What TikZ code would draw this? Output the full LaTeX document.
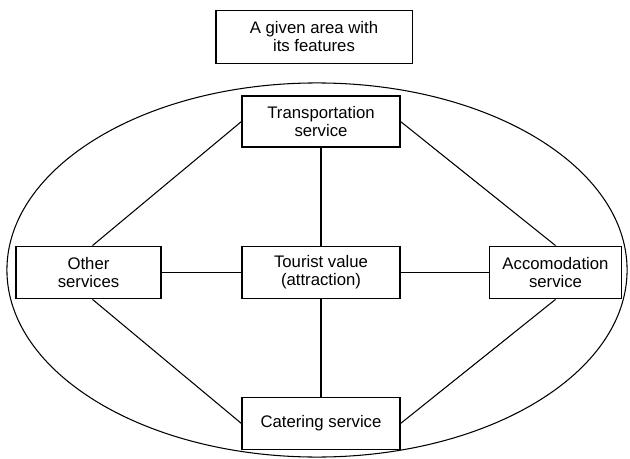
\documentclass[tikz,border=0pt]{standalone}
\usepackage{fontspec}
\setmainfont{Liberation Sans}
\usetikzlibrary{shapes.geometric}

\begin{document}
\begin{tikzpicture}[
    x=0.025cm, y=-0.025cm,
    box/.style={draw, line width=0.75pt, align=center, inner sep=1pt, minimum height=1.32cm, font=\fontsize{11.9}{12.8}\selectfont},
    link/.style={line width=0.75pt}
]
\useasboundingbox (0,0) rectangle (630,459);
\node[draw, ellipse, line width=0.75pt, inner sep=0pt, minimum width=15.5cm, minimum height=9.35cm] (region) at (317,270) {};
\node[box, minimum width=4.9cm] (area) at (314,37) {A given area with\\its features};
\node[box, minimum width=3.95cm, minimum height=1.275cm] (transport) at (321,121.5) {Transportation\\service};
\node[box, minimum width=3.625cm] (other) at (88.5,272.5) {Other\\services};
\node[box, minimum width=3.95cm] (tourist) at (321,272.5) {Tourist value\\(attraction)};
\node[box, minimum width=3.3cm] (accom) at (555.5,272.5) {Accomodation\\service};
\node[box, minimum width=3.95cm] (catering) at (321,423.5) {Catering service};
\draw[link] (transport) -- (tourist);
\draw[link] (tourist) -- (catering);
\draw[link] (other) -- (tourist);
\draw[link] (tourist) -- (accom);
\draw[link] (transport.west) -- ([xshift=0.1cm]other.north);
\draw[link] (transport.east) -- (accom.north);
\draw[link] ([xshift=0.1cm]other.south) -- (catering.west);
\draw[link] (accom.south) -- (catering.east);
\end{tikzpicture}
\end{document}
